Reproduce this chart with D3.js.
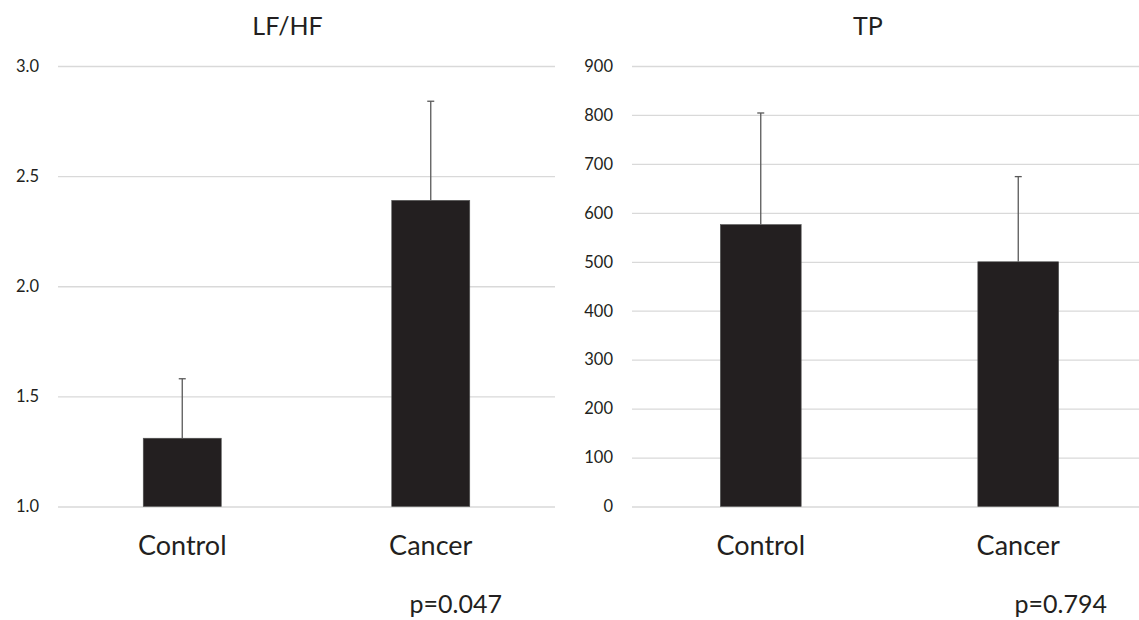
<!DOCTYPE html>
<html>
<head>
<meta charset="utf-8">
<script src="https://cdn.jsdelivr.net/npm/d3@7"></script>
<style>
  body { margin: 0; background: #fff; }
  text { font-family: Lato, "Open Sans", sans-serif; fill: #231f20; }
</style>
</head>
<body>
<svg id="chart" width="1139" height="620"></svg>
<script>
// data
var categories = ["Control", "Cancer"]

var lfhfMean = [1.31, 2.39]
var lfhfErr = [0.27, 0.45]
var lfhfTicks = [1.0, 1.5, 2.0, 2.5, 3.0]

var tpMean = [576, 500]
var tpErr = [228, 174]
var tpTicks = [0, 100, 200, 300, 400, 500, 600, 700, 800, 900]

var titles = ["LF/HF", "TP"]
var pValues = ["p=0.047", "p=0.794"]

var svg = d3.select("#chart")

var panels = [
    {title: titles[0], p: pValues[0], mean: lfhfMean, err: lfhfErr, ticks: lfhfTicks,
     domain: [1, 3], fmt: d3.format(".1f"), x0: 58, x1: 555, titleX: 287.5, pRight: 502},
    {title: titles[1], p: pValues[1], mean: tpMean, err: tpErr, ticks: tpTicks,
     domain: [0, 900], fmt: d3.format("d"), x0: 632, x1: 1147, titleX: 868, pRight: 1107}
]

panels.forEach(function(pn) {
    var g = svg.append("g")

    var x = d3.scaleBand()
        .domain(categories)
        .range([pn.x0, pn.x1])
        .paddingInner(0.686)
        .paddingOuter(0.343)

    var y = d3.scaleLinear()
        .domain(pn.domain)
        .range([506.5, 66])

    // gridlines + tick labels
    var axis = g.append("g")
        .attr("transform", "translate(" + pn.x0 + ",0)")
        .call(d3.axisLeft(y)
            .tickValues(pn.ticks)
            .tickFormat(pn.fmt)
            .tickSize(-(Math.min(pn.x1, 1139) - pn.x0))
            .tickPadding(19))
    axis.select(".domain").remove()
    axis.selectAll(".tick line")
        .style("stroke", "#d9d9d9")
        .style("stroke-width", "1.3px")
    axis.selectAll(".tick text")
        .style("font-size", "16.5px")
        .style("font-family", "Lato, sans-serif")
        .style("fill", "#231f20")

    var rows = categories.map(function(c, i) {
        return {cat: c, mean: pn.mean[i], err: pn.err[i]}
    })

    g.selectAll("rect.bar")
        .data(rows)
        .join("rect")
        .classed("bar", true)
        .attr("x", function(d) { return x(d.cat) })
        .attr("width", x.bandwidth())
        .attr("y", function(d) { return y(d.mean) })
        .attr("height", function(d) { return y(pn.domain[0]) - y(d.mean) })
        .style("fill", "#231f20")
        .style("stroke", "#555")
        .style("stroke-width", "0.6px")

    // error bars, upper side only
    g.selectAll("line.err")
        .data(rows)
        .join("line")
        .classed("err", true)
        .attr("x1", function(d) { return x(d.cat) + x.bandwidth() / 2 })
        .attr("x2", function(d) { return x(d.cat) + x.bandwidth() / 2 })
        .attr("y1", function(d) { return y(d.mean) })
        .attr("y2", function(d) { return y(d.mean + d.err) })
        .style("stroke", "#595959")
        .style("stroke-width", "1.3px")

    g.selectAll("line.cap")
        .data(rows)
        .join("line")
        .classed("cap", true)
        .attr("x1", function(d) { return x(d.cat) + x.bandwidth() / 2 - 3.5 })
        .attr("x2", function(d) { return x(d.cat) + x.bandwidth() / 2 + 3.5 })
        .attr("y1", function(d) { return y(d.mean + d.err) })
        .attr("y2", function(d) { return y(d.mean + d.err) })
        .style("stroke", "#595959")
        .style("stroke-width", "1.3px")

    // category labels
    g.selectAll("text.cat")
        .data(categories)
        .join("text")
        .classed("cat", true)
        .attr("x", function(d) { return x(d) + x.bandwidth() / 2 })
        .attr("y", 555)
        .attr("text-anchor", "middle")
        .style("font-size", "27px")
        .text(function(d) { return d })

    g.append("text")
        .attr("x", pn.titleX)
        .attr("y", 35)
        .attr("text-anchor", "middle")
        .style("font-size", "25px")
        .text(pn.title)

    g.append("text")
        .attr("x", pn.pRight)
        .attr("y", 613)
        .attr("text-anchor", "end")
        .style("font-size", "25px")
        .text(pn.p)
})
</script>
</body>
</html>
